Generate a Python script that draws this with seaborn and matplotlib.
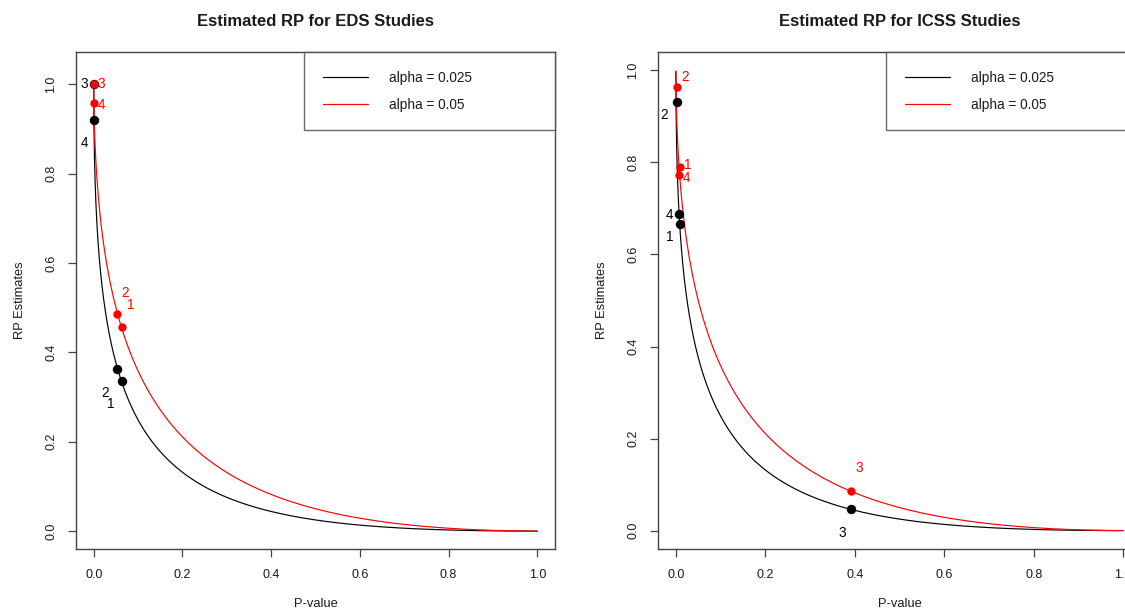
import numpy as np
import pandas as pd
import matplotlib
matplotlib.use("Agg")
import matplotlib.pyplot as plt
import seaborn as sns
from statistics import NormalDist

# ---------------- data ----------------
alphas = [0.025, 0.05]
alpha_labels = ["alpha = 0.025", "alpha = 0.05"]
line_colors = ["black", "red"]

titles = ["Estimated RP for EDS Studies", "Estimated RP for ICSS Studies"]
study_ids = ["1", "2", "3", "4"]

# EDS studies: p-values and estimated RP
eds_p = [0.063, 0.0535, 0.0, 0.0]
eds_rp_025 = [0.336, 0.362, 1.000, 0.920]
eds_rp_05 = [0.456, 0.485, 1.000, 0.958]

# ICSS studies
icss_p = [0.009, 0.002, 0.392, 0.008]
icss_rp_025 = [0.667, 0.932, 0.047, 0.688]
icss_rp_05 = [0.790, 0.963, 0.087, 0.772]

x_ticks = [0.0, 0.2, 0.4, 0.6, 0.8, 1.0]
y_ticks = [0.0, 0.2, 0.4, 0.6, 0.8, 1.0]

# label offsets in pixels (dx, dy) for each study, black / red
eds_off_025 = [(-11, -23), (-12, -24), (-9, 0), (-9, -23)]
eds_off_05 = [(9, 22), (8, 21), (8, 0), (8, -2)]
icss_off_025 = [(-10, -13), (-13, -13), (-9, -24), (-10, -1)]
icss_off_05 = [(8, 2), (8, 10), (8, 23), (7, -3)]

# theoretical RP curve: RP = Phi(z_{1-p} - z_{1-alpha})
nd = NormalDist()
p_grid = np.linspace(1e-6, 1 - 1e-6, 2000)
curve_rows = []
for a, lab in zip(alphas, alpha_labels):
    za = nd.inv_cdf(1 - a)
    for p in p_grid:
        curve_rows.append({"P-value": p, "RP": nd.cdf(nd.inv_cdf(1 - p) - za), "alpha": lab})
curve_df = pd.DataFrame(curve_rows)

panels = [
    dict(p=eds_p, rp=[eds_rp_025, eds_rp_05], off=[eds_off_025, eds_off_05], ylim=(-0.04, 1.072)),
    dict(p=icss_p, rp=[icss_rp_025, icss_rp_05], off=[icss_off_025, icss_off_05], ylim=(-0.04, 1.04)),
]

# ---------------- style ----------------
sns.set_theme(style="white")
plt.rcParams["font.family"] = ["Liberation Sans", "DejaVu Sans"]
frame_col = "#444444"
text_col = "#1a1a1a"

fig = plt.figure(figsize=(11.25, 6.1), dpi=100)
ax_rects = [
    [76 / 1125, 61 / 610, 479 / 1125, 497 / 610],
    [658 / 1125, 61 / 610, 483 / 1125, 497 / 610],
]

palette = dict(zip(alpha_labels, line_colors))

for i, (rect, panel, title) in enumerate(zip(ax_rects, panels, titles)):
    ax = fig.add_axes(rect)
    sns.lineplot(data=curve_df, x="P-value", y="RP", hue="alpha", palette=palette,
                 hue_order=alpha_labels, estimator=None, sort=False, lw=0.85, ax=ax)
    for k, (a_lab, col) in enumerate(zip(alpha_labels, line_colors)):
        pts = pd.DataFrame({"p": panel["p"], "rp": panel["rp"][k], "id": study_ids})
        sns.scatterplot(data=pts, x="p", y="rp", color=col, s=(46 if k == 0 else 36),
                        linewidth=0, legend=False, ax=ax, zorder=5 + k)
        for _, r in pts.iterrows():
            dx, dy = panel["off"][k][int(r["id"]) - 1]
            ax.annotate(r["id"], (r["p"], r["rp"]), xytext=(dx, dy), textcoords="offset pixels",
                        ha="center", va="center", color=col, fontsize=9.8, zorder=7)

    ax.set_xlim(-0.04, 1.04)
    ax.set_ylim(*panel["ylim"])
    ax.set_xticks(x_ticks)
    ax.set_yticks(y_ticks)
    ax.set_xticklabels([f"{t:.1f}" for t in x_ticks])
    ax.set_yticklabels([f"{t:.1f}" for t in y_ticks])
    ax.tick_params(axis="both", which="both", direction="out", length=5.8, width=0.9,
                   color=frame_col, labelsize=9, labelcolor=text_col,
                   bottom=True, left=True)
    ax.tick_params(axis="x", pad=8.5)
    ax.tick_params(axis="y", labelrotation=90, pad=7.5)
    for lbl in ax.get_yticklabels():
        lbl.set_va("center")
    for sp in ax.spines.values():
        sp.set_color(frame_col)
        sp.set_linewidth(1.0)
        sp.set_visible(True)

    ax.set_xlabel("P-value", fontsize=9.3, color=text_col)
    ax.set_ylabel("RP Estimates", fontsize=9.3, color=text_col)
    w_px = rect[2] * 1125
    ax.xaxis.set_label_coords(0.5, -(604 - 549) / 497)
    ax.xaxis.label.set_va("center")
    ax.yaxis.set_label_coords(-56 / w_px, 0.5)
    ax.yaxis.label.set_va("center")

    ax.set_title(title, fontsize=12, fontweight="bold", color=text_col, pad=18.5)

    leg_x0 = 0.476 if i == 0 else 0.472
    leg = ax.legend(loc="upper right", bbox_to_anchor=(leg_x0, 0, 1 - leg_x0, 1),
                    mode="expand", borderaxespad=0, fontsize=9.8, frameon=True,
                    fancybox=False, borderpad=1.38, handlelength=3.3, handletextpad=1.55,
                    labelspacing=0.95, title=None)
    leg.get_frame().set_edgecolor(frame_col)
    leg.get_frame().set_linewidth(1.0)
    for t in leg.get_texts():
        t.set_color(text_col)

fig.savefig("out.png", dpi=100, facecolor="white")
